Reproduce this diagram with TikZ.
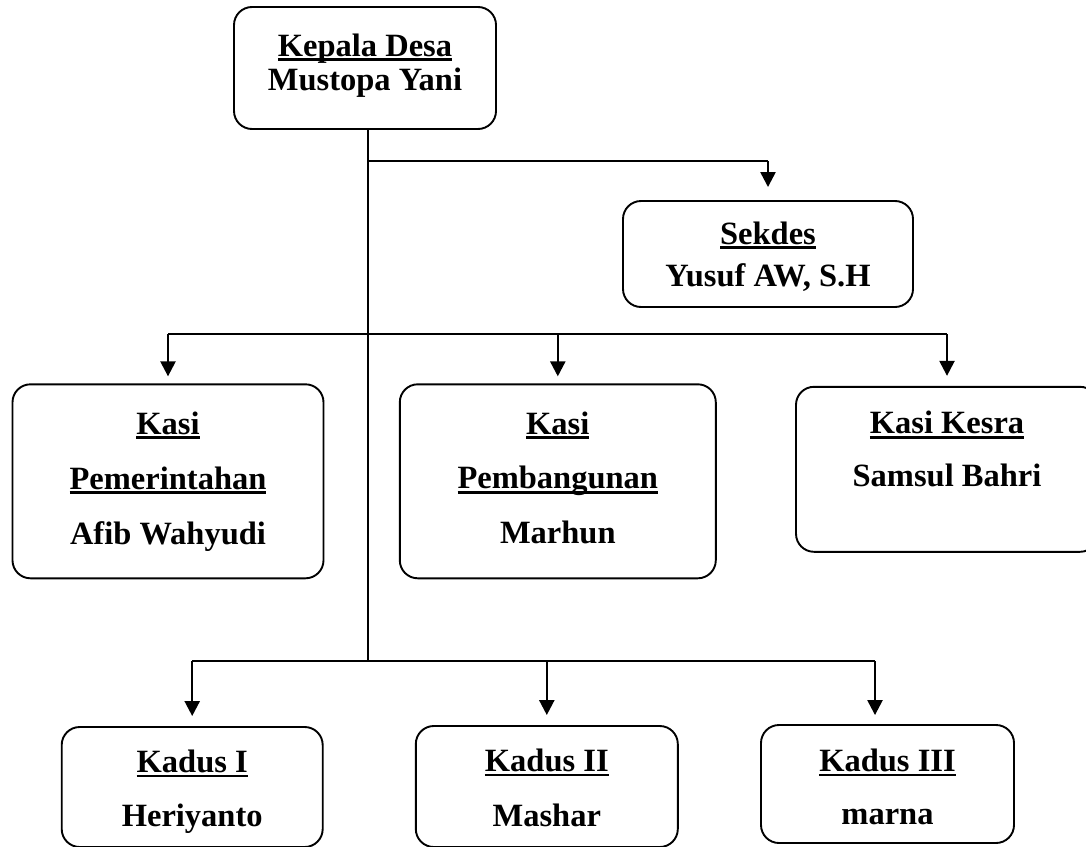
\documentclass[tikz,border=0pt]{standalone}
\usepackage{fontspec}
\setmainfont{Liberation Serif}
\usepackage{tikz}
\usetikzlibrary{arrows.meta,positioning,calc}

\newcommand{\garis}[1]{\setbox0\hbox{#1}\rlap{\rule[-4.6pt]{\wd0}{2.6pt}}\box0}

\begin{document}
\begin{tikzpicture}[
    x=1pt, y=-1pt,
    box/.style={draw, line width=1.9pt, rectangle, rounded corners=18pt, inner sep=0pt},
    txt/.style={align=center, inner sep=0pt, font=\bfseries\fontsize{32.5}{#1}\selectfont},
    txt/.default=34,
    line/.style={line width=1.9pt},
    arrow/.style={line width=2.4pt, -{Triangle[length=15pt, width=15pt]}}
]
    \useasboundingbox (0,0) rectangle (1086,846);

    % Draw boxes
    \node (kades) [box, minimum width=262pt, minimum height=122pt] at (365,68) {};
    \node (sekdes) [box, minimum width=290pt, minimum height=106pt] at (768,254) {};
    \node (pem) [box, minimum width=311pt, minimum height=194pt] at (168,481.3) {};
    \node (pbg) [box, minimum width=316pt, minimum height=194pt] at (557.8,481.3) {};
    \node (kesra) [box, minimum width=302pt, minimum height=165pt] at (947,469.3) {};
    \node (kadus1) [box, minimum width=261pt, minimum height=120pt] at (192.2,787) {};
    \node (kadus2) [box, minimum width=262pt, minimum height=121pt] at (546.8,786.5) {};
    \node (kadus3) [box, minimum width=253pt, minimum height=118pt] at (887.5,784) {};

    % Draw texts
    \node (kadesT) [txt, below=27.3pt of kades.north] {\garis{Kepala Desa}\\Mustopa Yani};
    \node (sekdesT) [txt=42.4, below=21.3pt of sekdes.north] {\garis{Sekdes}\\Yusuf AW, S.H};
    \node (pemT) [txt=55, below=28pt of pem.north] {\garis{Kasi}\\\garis{Pemerintahan}\\Afib Wahyudi};
    \node (pbgT) [txt=54.5, below=28.3pt of pbg.north] {\garis{Kasi}\\\garis{Pembangunan}\\Marhun};
    \node (kesraT) [txt=53, below=25.3pt of kesra.north] {\garis{Kasi Kesra}\\Samsul Bahri};
    \node (kadus1T) [txt=54, below=24pt of kadus1.north] {\garis{Kadus I}\\Heriyanto};
    \node (kadus2T) [txt=55, below=24pt of kadus2.north] {\garis{Kadus II}\\Mashar};
    \node (kadus3T) [txt=53, below=25pt of kadus3.north] {\garis{Kadus III}\\marna};

    % Draw connections
    \coordinate (jsek) at (368.3,161);
    \coordinate (jkasi) at (368.3,334);
    \coordinate (jkadus) at (368.3,661);
    \coordinate (k3) at ($(kadus3.north)+(-12.5,0)$);

    \draw [line] (kades.south -| jkadus) -- (jkadus);
    \draw [line] (jsek) -- (jsek -| sekdes.north);
    \draw [arrow, shorten >=13pt] (jsek -| sekdes.north) -- (sekdes.north);

    \draw [line] (jkasi -| pem.north) -- (jkasi -| kesra.north);
    \draw [arrow, shorten >=7pt] (jkasi -| pem.north) -- (pem.north);
    \draw [arrow, shorten >=7pt] (jkasi -| pbg.north) -- (pbg.north);
    \draw [arrow, shorten >=10pt] (jkasi -| kesra.north) -- (kesra.north);

    \draw [line] (jkadus -| kadus1.north) -- (jkadus -| k3);
    \draw [arrow, shorten >=10pt] (jkadus -| kadus1.north) -- (kadus1.north);
    \draw [arrow, shorten >=10pt] (jkadus -| kadus2.north) -- (kadus2.north);
    \draw [arrow, shorten >=9pt] (jkadus -| k3) -- (k3);

\end{tikzpicture}
\end{document}
